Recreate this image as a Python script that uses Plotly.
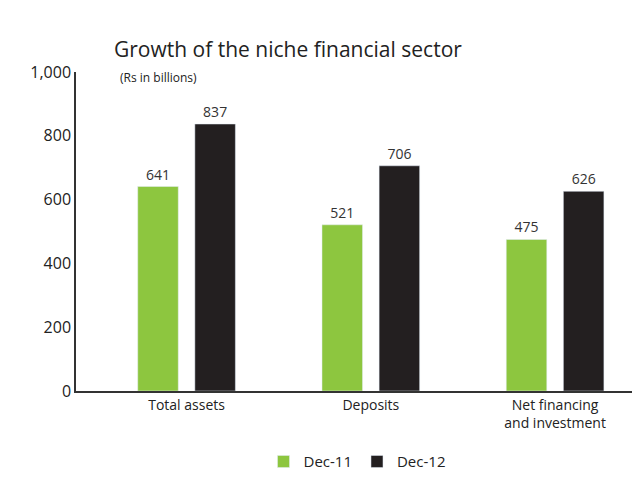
import plotly.graph_objects as go

categories = ["Total assets", "Deposits", "Net financing<br>and investment"]
dec11 = [641, 521, 475]
dec12 = [837, 706, 626]

GREEN = "#8dc63f"
BLACK = "#231f20"

fig = go.Figure()
fig.add_trace(go.Bar(
    x=categories, y=dec11, name="Dec-11", marker_color=GREEN,
    width=0.22, offset=-0.265, text=dec11, textposition="outside",
    textfont=dict(size=14, color="#333"), cliponaxis=False,
))
fig.add_trace(go.Bar(
    x=categories, y=dec12, name="Dec-12", marker_color=BLACK,
    width=0.22, offset=0.045, text=dec12, textposition="outside",
    textfont=dict(size=14, color="#333"), cliponaxis=False,
))

fig.update_layout(
    width=640, height=480,
    margin=dict(l=68, r=10, t=64, b=90),
    paper_bgcolor="white", plot_bgcolor="white",
    font=dict(family="Open Sans, sans-serif", color="#222"),
    barmode="overlay",
    showlegend=True,
    legend=dict(orientation="h", x=0.5, xanchor="center", y=-0.17, yanchor="top",
                font=dict(size=15)),
    annotations=[
        dict(text="Growth of the niche financial sector", x=(104 - 68) / 562,
             y=1 + (64 - 40) / 326, xref="paper", yref="paper", showarrow=False,
             xanchor="left", yanchor="middle", font=dict(size=21)),
        dict(text="(Rs in billions)", x=(110 - 68) / 562, y=1 - (70 - 64) / 326,
             xref="paper", yref="paper", showarrow=False,
             xanchor="left", yanchor="middle", font=dict(size=12)),
    ],
)

fig.update_xaxes(range=[-0.6, 2.45], showline=True, linecolor="#333", linewidth=1.5,
                 ticks="", tickfont=dict(size=14))
fig.update_yaxes(range=[0, 1000], dtick=200, tickformat=",", showgrid=False,
                 zeroline=False, showline=True, linecolor="#333", linewidth=1.5,
                 tickfont=dict(size=16))

fig.write_html("out.html")
